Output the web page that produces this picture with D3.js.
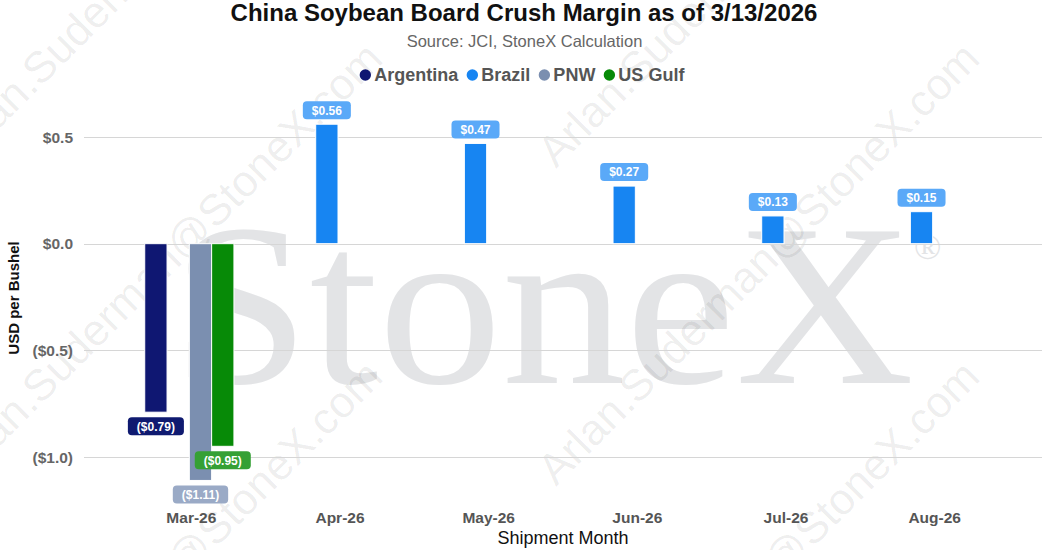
<!DOCTYPE html>
<html>
<head>
<meta charset="utf-8">
<script src="https://cdn.jsdelivr.net/npm/d3@7"></script>
<style>
  body { margin: 0; background: #fff; }
  text { font-family: "Liberation Sans", Arial, sans-serif; }
</style>
</head>
<body>
<svg id="chart"></svg>
<script>
// Chart data
const months = ["Mar-26", "Apr-26", "May-26", "Jun-26", "Jul-26", "Aug-26"];
const seriesNames = ["Argentina", "Brazil", "PNW", "US Gulf"];
const argentina = [-0.79, null, null, null, null, null];
const brazil = [null, 0.56, 0.47, 0.27, 0.13, 0.15];
const pnw = [-1.11, null, null, null, null, null];
const usGulf = [-0.95, null, null, null, null, null];
const yTicks = [0.5, 0.0, -0.5, -1.0];

const seriesValues = [argentina, brazil, pnw, usGulf];
const colors = ["#0f1772", "#1785f2", "#7b8fb0", "#078a07"];
const labelColors = ["#0f1a70", "#5aa9f8", "#9aaac6", "#35a035"];

const W = 1042, H = 550;
const svg = d3.select("#chart").attr("width", W).attr("height", H);

// Scales
const x0 = d3.scaleBand().domain(months).range([115, 1007]);
const x1 = d3.scaleBand().domain(seriesNames)
    .range([x0.bandwidth() * 0.2, x0.bandwidth() * 0.8]);
const y = d3.scaleLinear().domain([-1.25, 0.75]).range([510.3, 83.7]);

const money = v => {
    const s = "$" + d3.format(".2f")(Math.abs(v));
    return v < 0 ? "(" + s + ")" : s;
};
const tickFmt = v => {
    const s = "$" + d3.format(".1f")(Math.abs(v));
    return v < -1e-9 ? "(" + s + ")" : s;
};

// Watermark: big StoneX
svg.append("text")
    .attr("x", 172).attr("y", 383)
    .attr("textLength", 742)
    .attr("lengthAdjust", "spacingAndGlyphs")
    .style("font-family", "'Liberation Serif', 'Times New Roman', serif")
    .style("font-size", "232px")
    .attr("fill", "#e3e4e6")
    .text("StoneX");
svg.append("text")
    .attr("x", 914).attr("y", 259)
    .style("font-family", "'Liberation Serif', 'Times New Roman', serif")
    .style("font-size", "36px")
    .attr("fill", "#e3e4e6")
    .text("\u00AE");

// Watermark: diagonal email
const wmX = [-41, 556];
const wmY = [169, 487, 805];
wmX.forEach(wx => wmY.forEach(wy => {
    svg.append("text")
        .attr("transform", `translate(${wx},${wy}) rotate(-45)`)
        .style("font-size", "44px")
        .attr("fill", "#000")
        .attr("fill-opacity", 0.07)
        .text("Arlan.Suderman@StoneX.com");
}));

// Gridlines
svg.append("g").selectAll("line")
    .data(yTicks)
    .enter().append("line")
    .attr("x1", 84).attr("x2", W)
    .attr("y1", d => Math.round(y(d)) + 0.5)
    .attr("y2", d => Math.round(y(d)) + 0.5)
    .attr("stroke", "#d6d6d6")
    .attr("stroke-width", 1);

// Y tick labels
svg.append("g").selectAll("text")
    .data(yTicks)
    .enter().append("text")
    .attr("x", 73)
    .attr("y", d => y(d))
    .attr("dy", "0.36em")
    .attr("text-anchor", "end")
    .style("font-size", "15.5px")
    .style("font-weight", "bold")
    .attr("fill", "#666")
    .text(tickFmt);

// Bars
const points = [];
seriesValues.forEach((vals, si) => {
    vals.forEach((v, mi) => {
        if (v !== null) points.push({ s: si, m: mi, v: v });
    });
});

svg.append("g").selectAll("rect")
    .data(points)
    .enter().append("rect")
    .attr("x", d => x0(months[d.m]) + x1(seriesNames[d.s]))
    .attr("width", x1.bandwidth())
    .attr("y", d => y(Math.max(0, d.v)))
    .attr("height", d => Math.abs(y(d.v) - y(0)))
    .attr("fill", d => colors[d.s])
    .attr("stroke", "#fff")
    .attr("stroke-width", 1);

// Data labels
const lab = svg.append("g").selectAll("g")
    .data(points)
    .enter().append("g");

lab.each(function(d) {
    const g = d3.select(this);
    const cx = x0(months[d.m]) + x1(seriesNames[d.s]) + x1.bandwidth() / 2;
    const t = g.append("text")
        .attr("x", cx)
        .attr("text-anchor", "middle")
        .style("font-size", "12px")
        .style("font-weight", "bold")
        .attr("fill", "#fff")
        .text(money(d.v));
    const tw = t.node().getComputedTextLength();
    const bw = tw + 18, bh = 18;
    const top = d.v >= 0 ? y(d.v) - 5 - bh : y(d.v) + 5;
    g.insert("rect", "text")
        .attr("x", cx - bw / 2)
        .attr("y", top)
        .attr("width", bw)
        .attr("height", bh)
        .attr("rx", 4)
        .attr("fill", labelColors[d.s]);
    t.attr("y", top + bh / 2).attr("dy", "0.36em");
});

// X axis labels
svg.append("g").selectAll("text")
    .data(months)
    .enter().append("text")
    .attr("x", d => x0(d) + x0.bandwidth() / 2 + 2)
    .attr("y", 523)
    .attr("text-anchor", "middle")
    .style("font-size", "15.5px")
    .style("font-weight", "bold")
    .attr("fill", "#555")
    .text(d => d);

// Axis titles
svg.append("text")
    .attr("x", 563).attr("y", 544)
    .attr("text-anchor", "middle")
    .style("font-size", "18px")
    .attr("fill", "#111")
    .text("Shipment Month");

svg.append("text")
    .attr("transform", "translate(19,298) rotate(-90)")
    .attr("text-anchor", "middle")
    .style("font-size", "15px")
    .style("font-weight", "bold")
    .attr("fill", "#111")
    .text("USD per Bushel");

// Title and subtitle
svg.append("text")
    .attr("x", 524).attr("y", 21)
    .attr("text-anchor", "middle")
    .style("font-size", "24px")
    .style("font-weight", "bold")
    .attr("fill", "#111")
    .text("China Soybean Board Crush Margin as of 3/13/2026");

svg.append("text")
    .attr("x", 524.5).attr("y", 47)
    .attr("text-anchor", "middle")
    .style("font-size", "16.5px")
    .attr("fill", "#666")
    .text("Source: JCI, StoneX Calculation");

// Legend
const legend = svg.append("g");
let lx = 0;
const items = [];
seriesNames.forEach((name, i) => {
    const g = legend.append("g");
    g.append("circle").attr("cx", lx).attr("cy", 75).attr("r", 5.7).attr("fill", colors[i]);
    const t = g.append("text")
        .attr("x", lx + 9).attr("y", 81)
        .style("font-size", "18px")
        .style("font-weight", "bold")
        .attr("fill", "#555")
        .text(name);
    const w = t.node().getComputedTextLength();
    items.push(g);
    lx = lx + 9 + w + 14;
});
const legendWidth = lx - 14 + 5.7;
legend.attr("transform", `translate(${522 - legendWidth / 2 + 5.7},0)`);
</script>
</body>
</html>
